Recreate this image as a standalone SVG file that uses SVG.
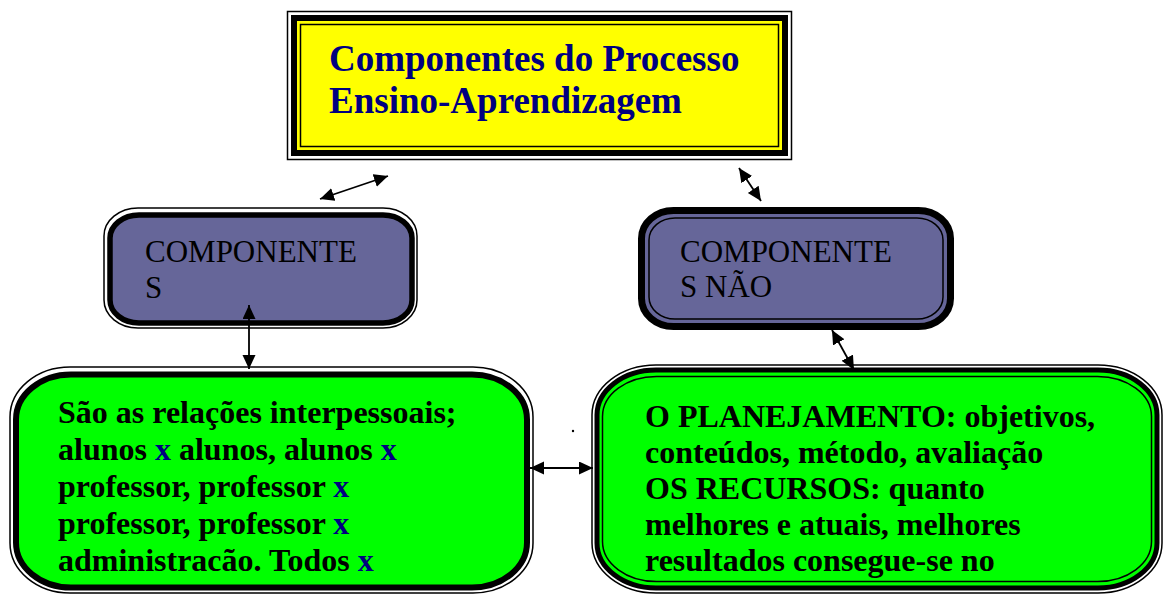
<svg xmlns="http://www.w3.org/2000/svg" width="1163" height="596" viewBox="0 0 1163 596">
<defs>
<marker id="ah" markerUnits="userSpaceOnUse" markerWidth="16" markerHeight="14" refX="14" refY="6.5" orient="auto-start-reverse">
<path d="M0,0 L14,6.5 L0,13 z" fill="#000"/>
</marker>
<style>
.title{font-family:"Liberation Serif","Times New Roman",serif;font-weight:bold;font-size:37px;fill:#000080}
.purp{font-family:"Liberation Serif","Times New Roman",serif;font-size:31px;fill:#000}
.green{font-family:"Liberation Serif","Times New Roman",serif;font-weight:bold;font-size:32px;fill:#000}
.x{fill:#000080}
.conn{stroke:#000;stroke-width:1.8;fill:none;marker-start:url(#ah);marker-end:url(#ah)}
</style>
</defs>
<rect width="1163" height="596" fill="#fff"/>
<g id="title-node">
<rect x="287.5" y="11.5" width="504" height="148" fill="#fff" stroke="#000" stroke-width="1.5"/>
<rect x="291" y="15" width="497" height="141" fill="#000"/>
<rect x="297" y="21" width="485" height="129" fill="#ffff00"/>
<rect x="300.5" y="24.5" width="478" height="122" fill="#ffff00" stroke="#000" stroke-width="1.5"/>
<text class="title" x="329" y="71">Componentes do Processo</text>
<text class="title" x="329" y="113">Ensino-Aprendizagem</text>
</g>
<g id="componentes">
<rect x="104" y="208" width="313" height="120" rx="34" ry="28" fill="#fff" stroke="#000" stroke-width="1.5"/>
<rect x="110" y="215" width="302" height="108" rx="29" ry="23" fill="#666699" stroke="#000" stroke-width="5.5"/>
<text class="purp" x="145" y="262">COMPONENTE</text>
<text class="purp" x="145" y="298">S</text>
</g>
<g id="componentes-nao">
<rect x="641.5" y="210.5" width="309" height="116" rx="32" ry="28" fill="#666699" stroke="#000" stroke-width="7"/>
<rect x="649" y="218" width="294" height="101" rx="26" ry="22" fill="none" stroke="#000" stroke-width="1.5"/>
<text class="purp" x="680" y="262">COMPONENTE</text>
<text class="purp" x="680" y="297">S NÃO</text>
</g>
<g id="relacoes">
<rect x="10" y="367" width="523" height="226" rx="60" ry="50" fill="#fff" stroke="#000" stroke-width="1.5"/>
<rect x="16" y="374.5" width="511" height="213" rx="55" ry="45" fill="#00ff00" stroke="#000" stroke-width="6"/>
<text class="green" x="58" y="423">São as relações interpessoais;</text>
<text class="green" x="58" y="460">alunos <tspan class="x">x</tspan> alunos, alunos <tspan class="x">x</tspan></text>
<text class="green" x="58" y="497">professor, professor <tspan class="x">x</tspan></text>
<text class="green" x="58" y="534">professor, professor <tspan class="x">x</tspan></text>
<text class="green" x="58" y="571">administracão. Todos <tspan class="x">x</tspan></text>
</g>
<g id="planejamento">
<rect x="592" y="365" width="570" height="228" rx="64" ry="50" fill="#fff" stroke="#000" stroke-width="1.5"/>
<rect x="597" y="370" width="560" height="218" rx="59" ry="45" fill="#00ff00" stroke="#000" stroke-width="5"/>
<rect x="602.5" y="376.5" width="549" height="205" rx="54" ry="40" fill="none" stroke="#000" stroke-width="1.5"/>
<text class="green" x="645" y="427">O PLANEJAMENTO: objetivos,</text>
<text class="green" x="645" y="463">conteúdos, método, avaliação</text>
<text class="green" x="645" y="499">OS RECURSOS: quanto</text>
<text class="green" x="645" y="535">melhores e atuais, melhores</text>
<text class="green" x="645" y="571">resultados consegue-se no</text>
</g>
<circle cx="573" cy="431" r="1.2" fill="#000"/>
<g id="connectors">
<line class="conn" x1="320" y1="199" x2="388" y2="176"/>
<line class="conn" x1="739" y1="168" x2="761" y2="201"/>
<line class="conn" x1="249" y1="305" x2="249" y2="369"/>
<line class="conn" x1="832" y1="330" x2="854" y2="370"/>
<line class="conn" x1="530" y1="468" x2="593" y2="468"/>
</g>
</svg>
